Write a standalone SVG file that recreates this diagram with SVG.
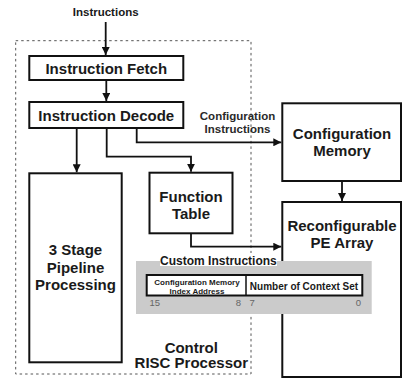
<svg xmlns="http://www.w3.org/2000/svg" width="402" height="379" viewBox="0 0 402 379">
<style>
  .box{fill:#fff;stroke:#111;stroke-width:2}
  .t{font-family:"Liberation Sans",Arial,sans-serif;font-weight:bold;fill:#1a1a1a;text-anchor:middle}
  .t15{font-size:15px}
  .t12{font-size:12px}
  .lbl{font-size:11.5px;fill:#2a2a2a}
  .bit{font-family:"Liberation Sans",Arial,sans-serif;font-size:9.5px;fill:#666}
  .conn{fill:none;stroke:#111;stroke-width:1.8}
</style>
<defs>
  <marker id="arr" viewBox="0 0 10 10" refX="10" refY="5" markerWidth="8" markerHeight="8" markerUnits="userSpaceOnUse" orient="auto">
    <path d="M0,0 L10,5 L0,10 z" fill="#111"/>
  </marker>
</defs>
<rect width="402" height="379" fill="#fff"/>

<g id="control-risc-processor">
  <rect x="15.7" y="40.7" width="235.3" height="333.3" fill="none" stroke="#555" stroke-width="1" stroke-dasharray="2.5 3"/>
  <text class="t t15" x="191.3" y="353">Control</text>
  <text class="t t15" x="191.3" y="368.3">RISC Processor</text>
</g>

<g id="input-label">
  <text class="t lbl" x="105.7" y="16" style="fill:#1a1a1a">Instructions</text>
</g>

<g id="instruction-fetch">
  <rect class="box" x="29.3" y="56" width="154" height="24"/>
  <text class="t t15" x="106.3" y="73.5">Instruction Fetch</text>
</g>

<g id="instruction-decode">
  <rect class="box" x="29.3" y="102" width="154" height="26"/>
  <text class="t t15" x="106.3" y="120.5">Instruction Decode</text>
</g>

<g id="pipeline">
  <rect class="box" x="29.3" y="173.3" width="92.4" height="189"/>
  <text class="t t15" x="75.5" y="255">3 Stage</text>
  <text class="t t15" x="75.5" y="272.5">Pipeline</text>
  <text class="t t15" x="75.5" y="290">Processing</text>
</g>

<g id="function-table">
  <rect class="box" x="149.5" y="172.7" width="83" height="60.6"/>
  <text class="t t15" x="191" y="201.5">Function</text>
  <text class="t t15" x="191" y="218.5">Table</text>
</g>

<g id="configuration-memory">
  <rect class="box" x="282.3" y="103.3" width="118.7" height="77.7"/>
  <text class="t t15" x="342" y="138.5">Configuration</text>
  <text class="t t15" x="342" y="155.5">Memory</text>
</g>

<g id="pe-array">
  <rect class="box" x="282.3" y="202" width="118.7" height="175"/>
  <text class="t t15" x="342" y="230.5">Reconfigurable</text>
  <text class="t t15" x="342" y="248">PE Array</text>
</g>

<g id="connectors">
  <line class="conn" x1="105.7" y1="22" x2="105.7" y2="55" marker-end="url(#arr)"/>
  <line class="conn" x1="106.3" y1="80" x2="106.3" y2="101" marker-end="url(#arr)"/>
  <line class="conn" x1="76.7" y1="128" x2="76.7" y2="172.3" marker-end="url(#arr)"/>
  <polyline class="conn" points="106.7,128 106.7,156.7 191,156.7 191,171.7" marker-end="url(#arr)"/>
  <polyline class="conn" points="136.7,128 136.7,142.3 281.3,142.3" marker-end="url(#arr)"/>
  <polyline class="conn" points="191,233.3 191,246.7 281.3,246.7" marker-end="url(#arr)"/>
  <line class="conn" x1="342" y1="181" x2="342" y2="201" marker-end="url(#arr)"/>
  <text class="t lbl" x="237.5" y="119.5">Configuration</text>
  <text class="t lbl" x="237.5" y="133">Instructions</text>
</g>

<g id="custom-instructions">
  <rect x="136" y="261" width="235.7" height="53" fill="#cbcbcb"/>
  <rect x="160" y="253" width="117" height="13" fill="#fff"/>
  <text class="t t12" x="218.4" y="265">Custom Instructions</text>
  <rect x="146.7" y="275" width="215.6" height="20.5" fill="#fff" stroke="#111" stroke-width="2"/>
  <line x1="246" y1="275" x2="246" y2="295.5" stroke="#111" stroke-width="1.5"/>
  <text class="t" style="font-size:8px" x="197" y="284.5">Configuration Memory</text>
  <text class="t" style="font-size:8px" x="197" y="293.5">Index Address</text>
  <text class="t" style="font-size:10px" x="304" y="290">Number of Context Set</text>
  <text class="bit" x="149.5" y="305.5">15</text>
  <text class="bit" x="241" y="305.5" text-anchor="end">8</text>
  <text class="bit" x="249.5" y="305.5">7</text>
  <text class="bit" x="361" y="305.5" text-anchor="end">0</text>
</g>
</svg>
